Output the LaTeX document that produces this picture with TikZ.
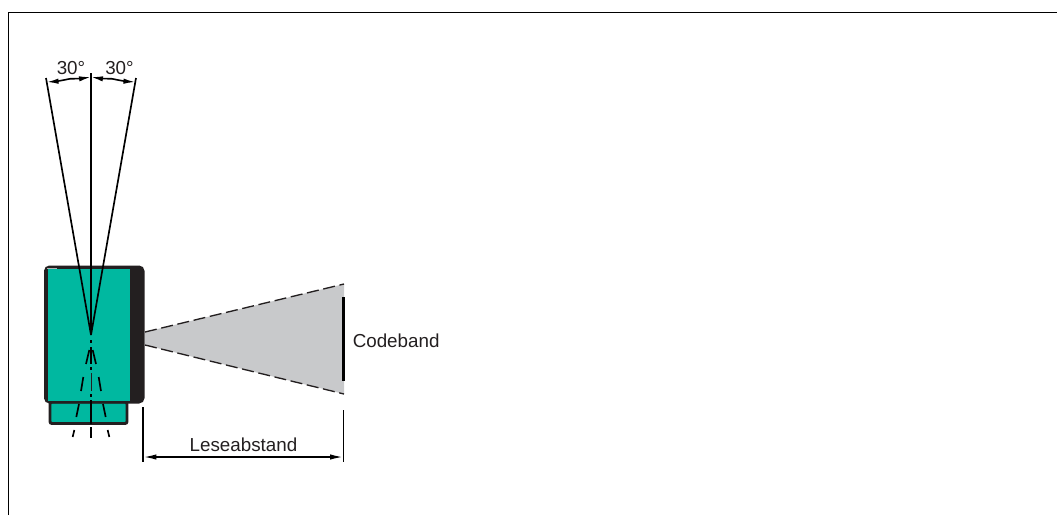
\documentclass[tikz,border=0pt]{standalone}
\usepackage{fontspec}
\setmainfont{Liberation Sans}
\usetikzlibrary{arrows.meta,positioning}
\definecolor{teal1}{HTML}{00B8A0}
\definecolor{body1}{HTML}{231F20}
\definecolor{cone1}{HTML}{C8C9CB}
\tikzset{
  lbl/.style={font=\fontsize{14.1pt}{16pt}\selectfont, text=body1, inner sep=0pt},
  dim/.style={line width=1.2pt, -{Latex[length=9pt,width=4pt]}},
  ray/.style={line width=1.25pt},
  conedash/.style={dash pattern=on 9pt off 3.5pt, line width=1pt, body1},
}
\begin{document}
\begin{tikzpicture}[x=0.75pt,y=-0.75pt]
    \useasboundingbox (0,0) rectangle (1057,515);
    % frame
    \coordinate (frameA) at (8.5,515);
    \coordinate (frameB) at (8.5,12.5);
    \coordinate (frameC) at (1057,12.5);
    \draw[line width=1pt] (frameA) -- (frameB) -- (frameC);
    % cone
    \coordinate (coneA) at (145,332);
    \coordinate (coneD) at (145,345);
    \coordinate (coneT) at (344,284);
    \coordinate (coneB) at (344,394);
    \fill[cone1] (coneA) -- (coneT) -- (coneB) -- (coneD) -- cycle;
    \draw[conedash] (coneA) -- (coneT);
    \draw[conedash] (coneD) -- (coneB);
    % scanner
    \draw[fill=teal1, draw=body1, line width=2.2pt, rounded corners=1.5pt] (50,402) rectangle (127,423.5);
    \fill[body1, rounded corners=4pt] (44,265.5) rectangle (144.5,403.5);
    \fill[teal1] (47.5,268.5) rectangle (130,400.5);
    \draw[white!70!black, line width=1pt] (47,268.2) -- (57,268.2);
    % rays
    \coordinate (center) at (91,335);
    \coordinate (rayL) at (46,78);
    \coordinate (rayR) at (136,78);
    \coordinate (rayM) at (91,73);
    \draw[ray] (center) -- (rayL);
    \draw[ray] (center) -- (rayR);
    \draw[line width=1.6pt] (center) -- (rayM);
    \foreach \ya/\yb in {340/342.5,347/364,367/370,394/397,400/424,427/438}
      \draw[line width=1.6pt] (91,\ya) -- (91,\yb);
    \draw[line width=0.7pt, body1] (91,373) -- (91,391);
    \foreach \xa/\ya/\xb/\yb in {89.3/350/86/364, 83.3/377/81/391, 79/404/76.3/417, 74.3/430/72.7/437}{
      \draw[ray] (\xa,\ya) -- (\xb,\yb);
      \draw[ray] ({182-\xa},\ya) -- ({182-\xb},\yb);
    }
    % angle dimension
    \coordinate (arcL) at (46.5,82);
    \coordinate (arcM) at (91,77);
    \coordinate (arcR) at (135.5,82);
    \coordinate (arcLm) at (70,78.8);
    \coordinate (arcRm) at (112,78.8);
    \draw[dim] (arcLm) to[bend left=4] (arcL);
    \draw[dim] (arcLm) to[bend right=4] (arcM);
    \draw[dim] (arcRm) to[bend right=4] (arcR);
    \draw[dim] (arcRm) to[bend left=4] (arcM);
    \node[lbl, anchor=base] (angleL) at (71,74) {30°};
    \node[lbl, anchor=base] (angleR) at (119.5,74) {30°};
    % code band
    \coordinate (bandT) at (343.5,297);
    \coordinate (bandB) at (343.5,381);
    \draw[line width=2.4pt] (bandT) -- (bandB);
    \node[lbl, anchor=base west] (codeband) at (352.5,347) {Codeband};
    % reading distance
    \coordinate (distL) at (143,407);
    \coordinate (distLb) at (143,462);
    \coordinate (distR) at (343.5,410);
    \coordinate (distRb) at (343.5,462);
    \coordinate (distA) at (143,457);
    \coordinate (distB) at (343.5,457);
    \draw[line width=1.25pt] (distL) -- (distLb);
    \draw[line width=1.25pt] (distR) -- (distRb);
    \draw[line width=1.3pt, {Latex[length=10pt,width=4pt]}-{Latex[length=10pt,width=4pt]}] (distA) -- (distB);
    \node[lbl, anchor=base] (leseabstand) at (243.5,451) {Leseabstand};
\end{tikzpicture}
\end{document}
